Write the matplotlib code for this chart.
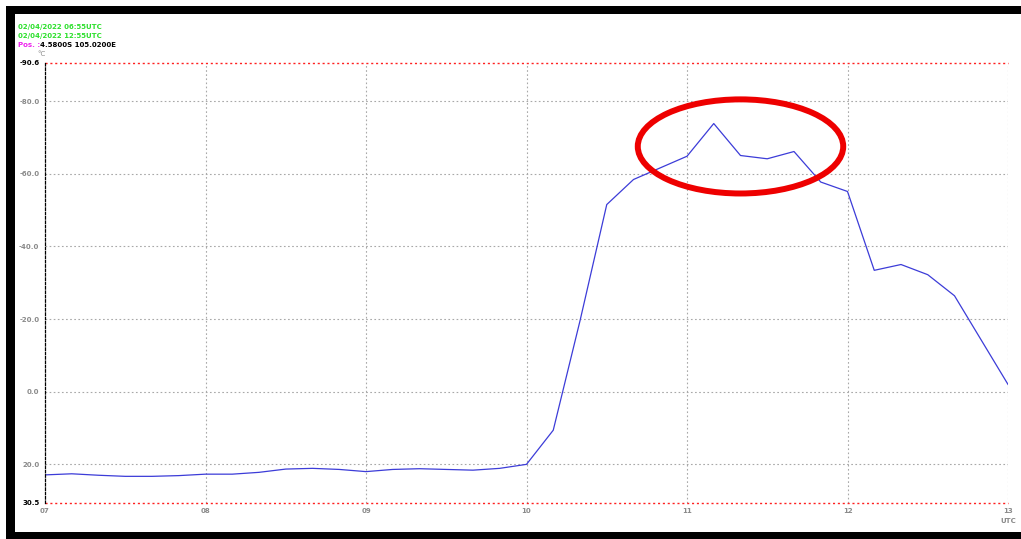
#Temperature trace (10-minute points) with an ellipse marking the peak
import numpy as np
import matplotlib
matplotlib.use('Agg')
import matplotlib.pyplot as plt
from matplotlib.patches import Ellipse, Rectangle

#data: hours UTC and temperature in degC
hours = [7 + i / 6 for i in range(37)]
temps = [22.9, 22.6, 23.0, 23.3, 23.3, 23.1, 22.7, 22.7, 22.2, 21.3,
         21.1, 21.4, 22.0, 21.4, 21.2, 21.4, 21.6, 21.1, 20.0, 10.6,
         -19.5, -51.5, -58.4, -61.6, -64.8, -73.8, -65.0, -64.1, -66.1, -57.7,
         -55.1, -33.4, -35.0, -32.2, -26.4, -14.2, -2.0]

y_ticks = [-90.6, -80.0, -60.0, -40.0, -20.0, 0.0, 20.0, 30.5]
x_ticks = [7, 8, 9, 10, 11, 12, 13]
x_labels = ['07', '08', '09', '10', '11', '12', '13']

header = ['02/04/2022 06:55UTC', '02/04/2022 12:55UTC']
pos_label = 'Pos. :'
pos_value = '4.5800S 105.0200E'

W, H = 1021, 539
fig = plt.figure(figsize=(W / 100, H / 100), dpi=100)

#black frame with white inside, kept behind the axes
fig.patches.append(Rectangle((6 / W, 0), 1 - 6 / W, 1 - 6 / H, transform=fig.transFigure,
                             facecolor='black', edgecolor='none', zorder=-2))
fig.patches.append(Rectangle((15 / W, 7 / H), 1 - 15 / W, (532 - 14) / H, transform=fig.transFigure,
                             facecolor='white', edgecolor='none', zorder=-1))

ax = fig.add_axes([45 / W, (H - 502.5) / H, 963 / W, 440 / H])
ax.set_facecolor('none')
ax.set_zorder(1)

ax.plot(hours, temps, color='#3c3cd8', linewidth=0.9)

ax.set_xlim(7, 13)
ax.set_ylim(30.5, -90.6)

#grid lines
grid_style = dict(color='#a8a8a8', linestyle=(0, (1.5, 2.2)), linewidth=0.8, zorder=0)
for y in y_ticks[1:-1]:
    ax.axhline(y, **grid_style)
for x in x_ticks[1:]:
    ax.axvline(x, **grid_style)
limit_style = dict(color='#ff2020', linestyle=(0, (1.5, 2)), linewidth=1.0, clip_on=False)
ax.axhline(y_ticks[0], **limit_style)
ax.axhline(y_ticks[-1], **limit_style)

for s in ['top', 'right', 'bottom']:
    ax.spines[s].set_visible(False)
ax.spines['left'].set_linestyle((0, (2, 1.5)))
ax.spines['left'].set_linewidth(0.9)

ax.set_yticks(y_ticks)
ax.set_yticklabels(['%.1f' % v for v in y_ticks])
ax.set_xticks(x_ticks)
ax.set_xticklabels(x_labels)
ax.tick_params(length=0, labelsize=5, labelcolor='#8a8a8a', pad=4)
for lab in ax.get_yticklabels() + ax.get_xticklabels():
    lab.set_fontweight('bold')
ax.get_yticklabels()[0].set_color('black')
ax.get_yticklabels()[-1].set_color('black')
ax.annotate('UTC', xy=(13, 30.5), xytext=(0, -11), textcoords='offset points',
            ha='center', va='top', fontsize=5, color='#8a8a8a',
            fontweight='bold', annotation_clip=False)

#red ellipse around the peak
ax.add_patch(Ellipse((11 + 20 / 60, -67.5), 1.28, 25.9, fill=False,
                     edgecolor='#ee0000', linewidth=4.3, zorder=5))

#header texts
fig.text(18 / W, 1 - 27 / H, header[0], color='#2ee02e', fontsize=5,
         fontweight='bold', va='center')
fig.text(18 / W, 1 - 36 / H, header[1], color='#2ee02e', fontsize=5,
         fontweight='bold', va='center')
fig.text(18 / W, 1 - 45 / H, pos_label, color='#ee22ee', fontsize=5,
         fontweight='bold', va='center')
fig.text(40 / W, 1 - 45 / H, pos_value, color='black', fontsize=5,
         fontweight='bold', va='center')
fig.text(37 / W, 1 - 54 / H, '°C', color='#8a8a8a', fontsize=5, va='center')

plt.savefig('out.png', dpi=100)
